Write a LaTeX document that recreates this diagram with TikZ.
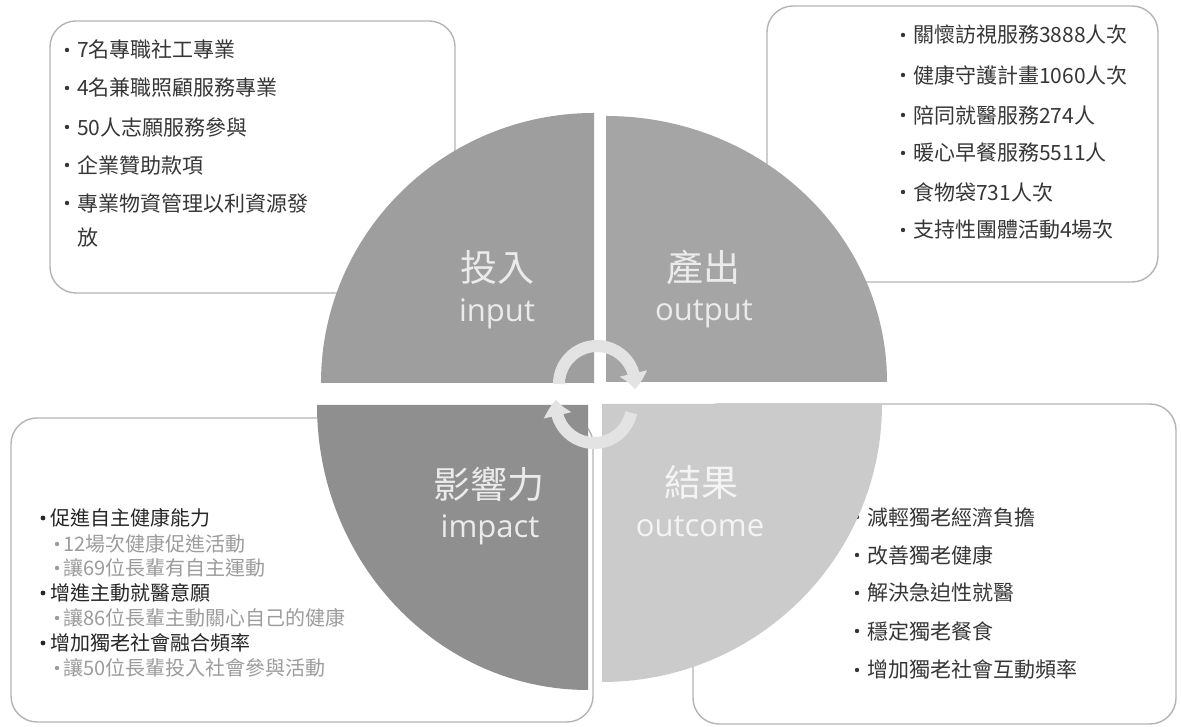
\documentclass[tikz,border=0pt]{standalone}
\usepackage{fontspec}
\setmainfont{Noto Sans CJK TC}
\newfontfamily\latinlab{Open Sans}
\usetikzlibrary{arrows.meta,bending}
\definecolor{qTL}{HTML}{9E9E9E}
\definecolor{qTR}{HTML}{A5A5A5}
\definecolor{qBL}{HTML}{8F8F8F}
\definecolor{qBR}{HTML}{CBCBCB}
\definecolor{boxgray}{HTML}{B4B4B4}
\definecolor{txtdark}{HTML}{363636}
\definecolor{txtblack}{HTML}{262626}
\definecolor{txtsub}{HTML}{9C9C9C}
\definecolor{labcol}{HTML}{EBEBEB}
\definecolor{labcolbr}{HTML}{F4F4F4}
\definecolor{arrcol}{HTML}{E3E3E3}
\begin{document}
\begin{tikzpicture}[x=1pt,y=1pt,
  box/.style={draw=boxgray, line width=1.4pt, rounded corners=26pt, fill=white},
  itemtxt/.style={anchor=west, inner sep=0pt, text=txtdark, font=\fontsize{21}{21}\selectfont},
  mainitem/.style={anchor=west, inner sep=0pt, text=txtblack, font=\fontsize{20}{20}\selectfont},
  subitem/.style={anchor=west, inner sep=0pt, text=txtsub, font=\fontsize{20}{20}\selectfont},
  cjklab/.style={inner sep=0pt, text=labcol, font=\fontsize{37}{37}\selectfont},
  latlab/.style={inner sep=0pt, text=labcol, font=\latinlab\fontsize{31}{31}\selectfont},
  cyclearrow/.style={draw=arrcol, line width=12pt, -{Triangle[width=27pt,length=16pt,bend]}},
]
\useasboundingbox (0,0) rectangle (1181,727);
\fill[white] (0,0) rectangle (1181,727);

% boxes
\draw[box] (50,434) rectangle (455,706);
\draw[box] (767,445) rectangle (1158,721);
\draw[box] (11,5) rectangle (593,309);
\draw[box] (693,3) rectangle (1176,323);

% top-left box text
\foreach \yy in {677,639,600,562,524} \fill[txtdark] (67,\yy) circle[radius=2.2];
\node[itemtxt] (a1) at (77,677) {7名專職社工專業};
\node[itemtxt] (a2) at (77,639) {4名兼職照顧服務專業};
\node[itemtxt] (a3) at (77,600) {50人志願服務參與};
\node[itemtxt] (a4) at (77,562) {企業贊助款項};
\node[itemtxt] (a5) at (77,524) {專業物資管理以利資源發};
\node[itemtxt] (a6) at (77,489) {放};

% top-right box text
\foreach \yy in {692,652,612,574,535,497} \fill[txtdark] (903,\yy) circle[radius=2.2];
\node[itemtxt] (b1) at (913,692) {關懷訪視服務3888人次};
\node[itemtxt] (b2) at (913,652) {健康守護計畫1060人次};
\node[itemtxt] (b3) at (913,612) {陪同就醫服務274人};
\node[itemtxt] (b4) at (913,574) {暖心早餐服務5511人};
\node[itemtxt] (b5) at (913,535) {食物袋731人次};
\node[itemtxt] (b6) at (913,497) {支持性團體活動4場次};

% bottom-left box text
\foreach \yy in {209,134,84} \fill[txtblack] (43,\yy) circle[radius=2.4];
\foreach \yy in {183,159,109,59} \fill[txtsub] (57,\yy) circle[radius=2.2];
\node[mainitem] (c1) at (50,209) {促進自主健康能力};
\node[subitem]  (c2) at (63,183) {12場次健康促進活動};
\node[subitem]  (c3) at (63,159) {讓69位長輩有自主運動};
\node[mainitem] (c4) at (50,134) {增進主動就醫意願};
\node[subitem]  (c5) at (63,109) {讓86位長輩主動關心自己的健康};
\node[mainitem] (c6) at (50,84)  {增加獨老社會融合頻率};
\node[subitem]  (c7) at (63,59)  {讓50位長輩投入社會參與活動};

% bottom-right box text
\foreach \yy in {210,172,134,96,57} \fill[txtdark] (857,\yy) circle[radius=2.2];
\node[itemtxt] (d1) at (867,210) {減輕獨老經濟負擔};
\node[itemtxt] (d2) at (867,172) {改善獨老健康};
\node[itemtxt] (d3) at (867,134) {解決急迫性就醫};
\node[itemtxt] (d4) at (867,96)  {穩定獨老餐食};
\node[itemtxt] (d5) at (867,57)  {增加獨老社會互動頻率};

% quadrants
\fill[qTL] (594,344) -- ++(-273,0) arc[start angle=180, end angle=90, x radius=273, y radius=270] -- cycle;
\fill[qTR] (606,345) -- ++(0,266) arc[start angle=90, end angle=0, x radius=281, y radius=266] -- cycle;
\fill[qBL] (588,322) -- ++(-271,0) arc[start angle=180, end angle=270, x radius=271, y radius=285] -- cycle;
\fill[qBR] (602,323) -- ++(280,0) arc[start angle=0, end angle=-90, x radius=280, y radius=278] -- cycle;

% quadrant labels
\node[cjklab] (l1) at (497,460) {投入};
\node[latlab] (l2) at (497,413) {input};
\node[cjklab] (l3) at (703,460) {產出};
\node[latlab] (l4) at (704,413) {output};
\node[cjklab] (l5) at (489,243) {影響力};
\node[latlab] (l6) at (490,197) {impact};
\node[cjklab, text=labcolbr] (l7) at (701,245) {結果};
\node[latlab, text=labcolbr] (l8) at (700,201) {outcome};

% cycle arrows
\coordinate (c1c) at (597,343);
\coordinate (c2c) at (594,322);
\draw[cyclearrow] (c1c) ++(180:38) arc[start angle=180, end angle=-8, radius=38];
\draw[cyclearrow] (c2c) ++(-12:38) arc[start angle=-12, end angle=-188, radius=38];
\end{tikzpicture}
\end{document}
